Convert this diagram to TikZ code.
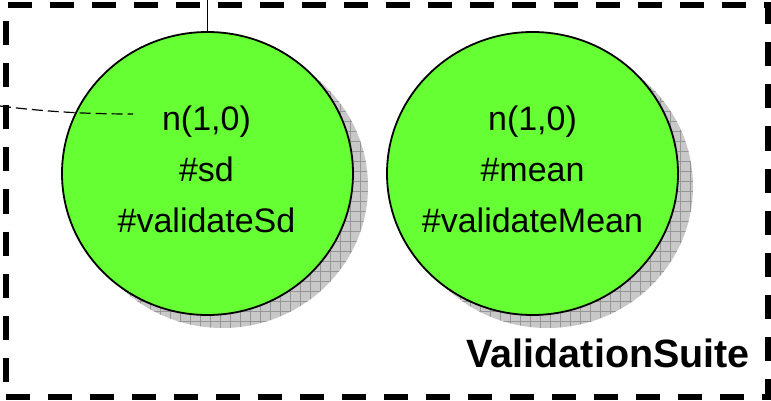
\documentclass[tikz,border=0pt]{standalone}
\usepackage{fontspec}
\setmainfont{Liberation Sans}
\usetikzlibrary{shapes.geometric,patterns.meta}
\definecolor{bubblegreen}{RGB}{102,255,51}
\definecolor{shadowfill}{RGB}{200,200,200}
\definecolor{shadowgrid}{RGB}{150,150,150}

\begin{document}
\begin{tikzpicture}[x=1pt,y=-1pt,
  bubble/.style={ellipse, draw=black, line width=1.8pt, fill=bubblegreen,
    minimum width=291pt, minimum height=283pt, inner sep=0pt},
  shadowblob/.style={ellipse, fill=shadowfill,
    minimum width=291pt, minimum height=283pt, inner sep=0pt,
    postaction={pattern={Lines[angle=0,distance=10pt,line width=0.6pt]}, pattern color=shadowgrid},
    postaction={pattern={Lines[angle=90,distance=10pt,line width=0.6pt]}, pattern color=shadowgrid}},
  attr/.style={font=\fontsize{34}{40}\selectfont, anchor=base, inner sep=0pt},
  suitebox/.style={draw=black, line width=6pt, dash pattern=on 24pt off 18pt,
    minimum width=762pt, minimum height=391.5pt, inner sep=0pt},
  suitename/.style={font=\bfseries\fontsize{39.5}{44}\selectfont, anchor=base east, inner sep=0pt},
  wire/.style={line width=1.5pt},
  hint/.style={line width=1.2pt, dash pattern=on 11pt off 5pt}]

\useasboundingbox (0,0) rectangle (771,401);

% package frame
\node[suitebox] (suite) at (387,200.75) {};
\node[suitename] (suitelabel) at (750,367.7) {ValidationSuite};

% drop shadows
\node[shadowblob] (s1) at (222.5,186.5) {};
\node[shadowblob] (s2) at (547.5,186.5) {};

% the two elements
\node[bubble] (c1) at (207.5,173.5) {};
\node[bubble] (c2) at (532.5,173.5) {};

\node[attr] (c1a) at (206.5,131) {n(1,0)};
\node[attr] (c1b) at (206.5,182) {\#sd};
\node[attr] (c1c) at (206.5,232.5) {\#validateSd};

\node[attr] (c2a) at (532.5,131) {n(1,0)};
\node[attr] (c2b) at (532.5,182) {\#mean};
\node[attr] (c2c) at (532.5,232.5) {\#validateMean};

% connectors
\coordinate (feed) at (207.5,0);
\draw[wire] (feed) -- (c1.north);

\coordinate (src) at (0,106);
\coordinate (tip) at (133,114);
\draw[hint] (src) .. controls (40,111) and (80,114) .. (tip);
\end{tikzpicture}
\end{document}
